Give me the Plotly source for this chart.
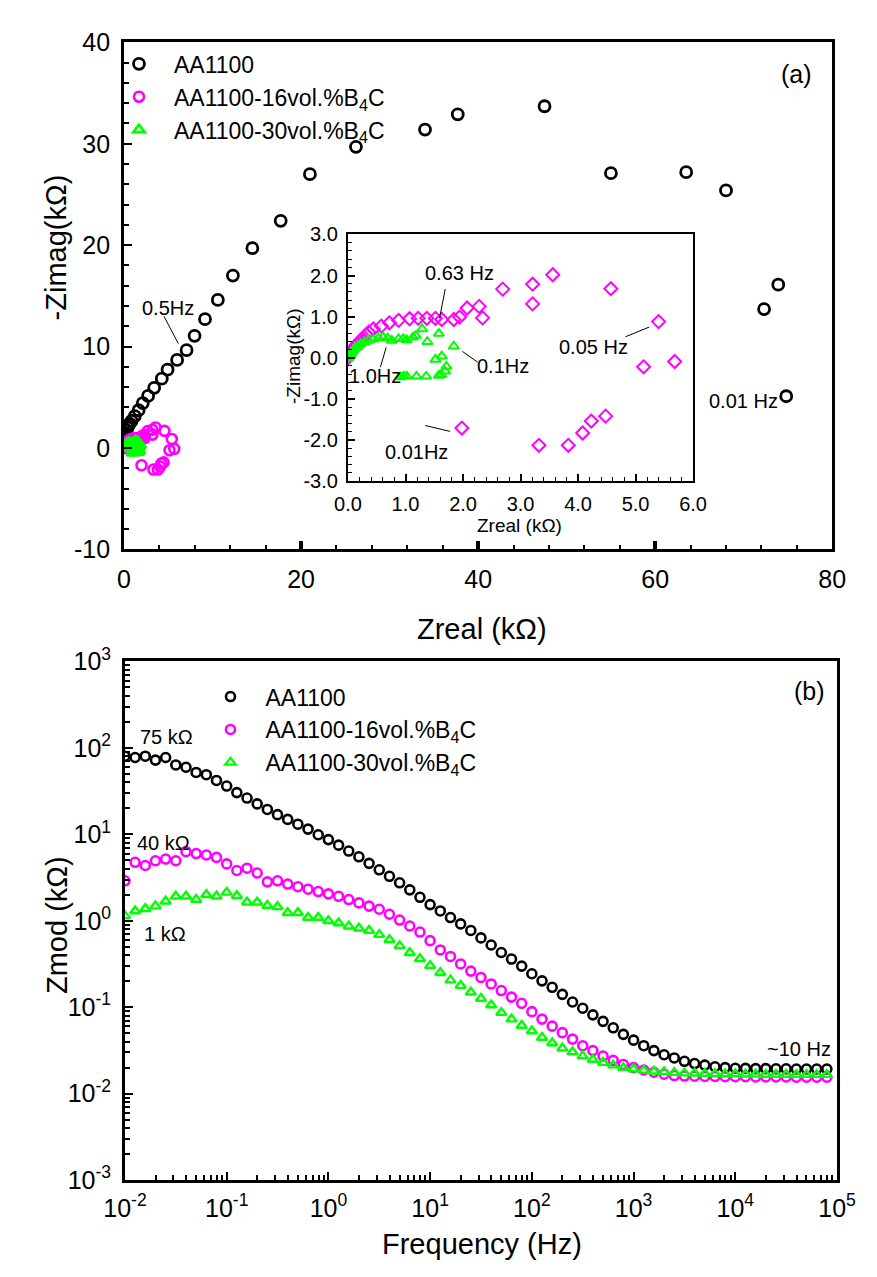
import plotly.graph_objects as go

# ---------------- data ----------------
# Nyquist, AA1100 (kOhm)
aa_zre = [0.02, 0.03, 0.05, 0.07, 0.10, 0.14, 0.20, 0.30, 0.40, 0.50, 0.65, 0.86, 1.22, 1.65, 2.12,
          2.72, 3.41, 4.27, 4.92, 6.00, 7.07, 7.97, 9.15, 10.6, 12.3, 14.5, 17.7, 21.0, 26.2, 34.0,
          37.7, 47.5, 55.0, 63.5, 68.0, 73.9, 72.3, 74.8]
aa_zim = [0.05, 0.15, 0.30, 0.50, 0.70, 1.00, 1.30, 1.70, 2.00, 2.20, 2.40, 2.66, 3.14, 3.72, 4.42,
          5.13, 5.93, 6.83, 7.72, 8.68, 9.64, 11.06, 12.7, 14.6, 17.0, 19.7, 22.4, 27.0, 29.7, 31.4,
          32.9, 33.7, 27.1, 27.2, 25.4, 16.1, 13.7, 5.1]
# Nyquist, AA1100-16vol.%B4C
b16_zre = [0.0, 0.02, 0.055, 0.08, 0.11, 0.15, 0.19, 0.23, 0.28, 0.32, 0.36, 0.44, 0.58, 0.72, 0.88,
           1.07, 1.22, 1.37, 1.52, 1.63, 1.84, 1.94, 2.07, 2.28, 2.34, 2.69, 3.21, 3.21, 3.56, 4.57,
           5.40, 5.14, 5.68, 4.48, 4.23, 4.08, 3.83, 3.32, 1.98]
b16_zim = [0.0, 0.07, 0.14, 0.20, 0.26, 0.32, 0.38, 0.44, 0.50, 0.56, 0.62, 0.70, 0.77, 0.85, 0.91,
           0.95, 0.96, 0.96, 0.96, 0.93, 0.93, 0.99, 1.21, 1.25, 0.97, 1.67, 1.31, 1.79, 2.02, 1.68,
           0.88, -0.22, -0.09, -1.42, -1.54, -1.83, -2.13, -2.13, -1.71]
# Nyquist, AA1100-30vol.%B4C
b30_zre = [0.0, 0.01, 0.03, 0.05, 0.07, 0.09, 0.11, 0.14, 0.17, 0.22, 0.29, 0.36, 0.44, 0.53, 0.61,
           0.69, 0.76, 0.88, 0.96, 1.02, 1.13, 1.18, 1.29, 1.38, 1.58, 1.84, 1.63, 1.52, 1.71, 1.69,
           1.62, 1.58, 1.36, 1.19, 1.02, 0.97, 0.92]
b30_zim = [-0.02, 0.02, 0.06, 0.10, 0.14, 0.18, 0.22, 0.25, 0.28, 0.34, 0.38, 0.42, 0.45, 0.48, 0.50,
           0.48, 0.42, 0.46, 0.46, 0.43, 0.50, 0.54, 0.70, 0.39, 0.59, 0.28, 0.04, -0.04, -0.21, -0.33,
           -0.41, -0.43, -0.45, -0.45, -0.45, -0.45, -0.47]

# Bode |Z|
freq_hz = [0.01, 0.01259, 0.01585, 0.01995, 0.02512, 0.03162, 0.03981, 0.05012, 0.06310, 0.07943,
           0.1, 0.1259, 0.1585, 0.1995, 0.2512, 0.3162, 0.3981, 0.5012, 0.6310, 0.7943,
           1.0, 1.259, 1.585, 1.995, 2.512, 3.162, 3.981, 5.012, 6.310, 7.943,
           10.0, 12.59, 15.85, 19.95, 25.12, 31.62, 39.81, 50.12, 63.10, 79.43,
           100.0, 125.9, 158.5, 199.5, 251.2, 316.2, 398.1, 501.2, 631.0, 794.3,
           1000.0, 1259, 1585, 1995, 2512, 3162, 3981, 5012, 6310, 7943,
           10000, 12590, 15850, 19950, 25120, 31620, 39810, 50120, 63100, 79430]
aa_zmod = [80.2, 77.4, 80.2, 72.3, 77.4, 63.5, 59.7, 52.0, 49.0, 42.0,
           36.2, 30.4, 26.3, 22.5, 19.4, 16.9, 14.9, 13.1, 11.5, 9.89,
           8.69, 7.50, 6.41, 5.50, 4.62, 3.89, 3.27, 2.75, 2.28, 1.87,
           1.54, 1.30, 1.09, 0.92, 0.773, 0.634, 0.525, 0.430, 0.361, 0.299,
           0.244, 0.202, 0.170, 0.141, 0.115, 0.0973, 0.0817, 0.0687, 0.0578, 0.0486,
           0.0416, 0.0359, 0.0315, 0.0282, 0.0259, 0.0237, 0.0223, 0.0214, 0.0205, 0.0200,
           0.0197, 0.0196, 0.0195, 0.0195, 0.0194, 0.0194, 0.0193, 0.0193, 0.0193, 0.0193]
b16_zmod = [2.90, 4.75, 4.36, 4.95, 5.18, 4.95, 6.31, 6.00, 5.78, 5.41,
            4.55, 3.82, 4.06, 3.57, 2.82, 2.90, 2.66, 2.48, 2.32, 2.18,
            2.05, 1.92, 1.76, 1.61, 1.48, 1.36, 1.19, 1.02, 0.871, 0.741,
            0.589, 0.460, 0.387, 0.317, 0.262, 0.221, 0.186, 0.156, 0.131, 0.111,
            0.0889, 0.0729, 0.0604, 0.0508, 0.0428, 0.0359, 0.0315, 0.0273, 0.0243, 0.0218,
            0.0200, 0.0188, 0.0177, 0.0168, 0.0162, 0.0160, 0.0159, 0.0158, 0.0158, 0.0157,
            0.0157, 0.0157, 0.0156, 0.0156, 0.0156, 0.0156, 0.0155, 0.0155, 0.0155, 0.0155]
b30_zmod = [1.14, 1.30, 1.38, 1.48, 1.68, 1.92, 1.92, 1.76, 2.00, 1.92,
            2.13, 1.95, 1.64, 1.64, 1.50, 1.45, 1.24, 1.24, 1.09, 1.09,
            1.00, 0.942, 0.865, 0.820, 0.773, 0.692, 0.603, 0.513, 0.427, 0.363,
            0.302, 0.251, 0.206, 0.178, 0.149, 0.126, 0.106, 0.0867, 0.0729, 0.0614,
            0.0530, 0.0446, 0.0385, 0.0336, 0.0303, 0.0273, 0.0249, 0.0229, 0.0214, 0.0200,
            0.0193, 0.0186, 0.0182, 0.0178, 0.0175, 0.0173, 0.0172, 0.0171, 0.0170, 0.0169,
            0.0169, 0.0168, 0.0168, 0.0167, 0.0167, 0.0167, 0.0166, 0.0166, 0.0166, 0.0166]

series_names = ["AA1100", "AA1100-16vol.%B<sub>4</sub>C", "AA1100-30vol.%B<sub>4</sub>C"]

# ---------------- layout helpers ----------------
W, H = 877, 1277
FONT = "Liberation Sans, Arial, sans-serif"
BLACK, MAG, GRN = "#000000", "#ff00ff", "#00ff00"


def fx(p):
    return p / W


def fy(p):
    return 1 - p / H


fig = go.Figure()

# ---- (a) Nyquist main ----
fig.add_trace(go.Scatter(x=aa_zre, y=aa_zim, mode="markers", name=series_names[0], xaxis="x", yaxis="y",
                         legend="legend", legendgroup="a1",
                         marker=dict(symbol="circle-open", size=11, color=BLACK, line=dict(width=2.8, color=BLACK))))
fig.add_trace(go.Scatter(x=b16_zre, y=b16_zim, mode="markers", name=series_names[1], xaxis="x", yaxis="y",
                         legend="legend", legendgroup="a2",
                         marker=dict(symbol="circle-open", size=10, color=MAG, line=dict(width=2.6, color=MAG))))
fig.add_trace(go.Scatter(x=b30_zre, y=b30_zim, mode="markers", name=series_names[2], xaxis="x", yaxis="y",
                         legend="legend", legendgroup="a3",
                         marker=dict(symbol="triangle-up-open", size=10, color=GRN, line=dict(width=2.6, color=GRN))))

# ---- inset ----
fig.add_trace(go.Scatter(x=b16_zre, y=b16_zim, mode="markers", showlegend=False, xaxis="x2", yaxis="y2",
                         marker=dict(symbol="diamond-open", size=10, color=MAG, line=dict(width=2.0, color=MAG))))
fig.add_trace(go.Scatter(x=b30_zre, y=b30_zim, mode="markers", showlegend=False, xaxis="x2", yaxis="y2",
                         marker=dict(symbol="triangle-up-open", size=9, color=GRN, line=dict(width=2.0, color=GRN))))

# ---- (b) Bode ----
fig.add_trace(go.Scatter(x=freq_hz, y=aa_zmod, mode="markers", name=series_names[0], xaxis="x3", yaxis="y3",
                         legend="legend2", legendgroup="b1",
                         marker=dict(symbol="circle-open", size=9, color=BLACK, line=dict(width=2.6, color=BLACK))))
fig.add_trace(go.Scatter(x=freq_hz, y=b16_zmod, mode="markers", name=series_names[1], xaxis="x3", yaxis="y3",
                         legend="legend2", legendgroup="b2",
                         marker=dict(symbol="circle-open", size=9, color=MAG, line=dict(width=2.6, color=MAG))))
fig.add_trace(go.Scatter(x=freq_hz, y=b30_zmod, mode="markers", name=series_names[2], xaxis="x3", yaxis="y3",
                         legend="legend2", legendgroup="b3",
                         marker=dict(symbol="triangle-up-open", size=9, color=GRN, line=dict(width=2.4, color=GRN))))

axis_common = dict(showline=True, mirror=True, linecolor=BLACK, linewidth=2.7, showgrid=False, zeroline=False,
                   ticks="inside", tickcolor=BLACK, tickwidth=2, ticklen=8)

main_tick_font = dict(family=FONT, size=25, color=BLACK)
inset_tick_font = dict(family=FONT, size=20, color=BLACK)

dec_x = [0.01, 0.1, 1, 10, 100, 1000, 10000, 100000]
dec_x_txt = ["10<sup>-2</sup>", "10<sup>-1</sup>", "10<sup>0</sup>", "10<sup>1</sup>", "10<sup>2</sup>",
             "10<sup>3</sup>", "10<sup>4</sup>", "10<sup>5</sup>"]
dec_y = [0.001, 0.01, 0.1, 1, 10, 100, 1000]
dec_y_txt = ["10<sup>-3</sup>", "10<sup>-2</sup>", "10<sup>-1</sup>", "10<sup>0</sup>", "10<sup>1</sup>",
             "10<sup>2</sup>", "10<sup>3</sup>"]
minor_x = [m * 10.0 ** e for e in range(-2, 5) for m in range(2, 10)]
minor_y = [m * 10.0 ** e for e in range(-3, 3) for m in range(2, 10)]

fig.update_layout(
    width=W, height=H, autosize=False,
    margin=dict(l=0, r=0, t=0, b=0),
    paper_bgcolor="white", plot_bgcolor="white",
    font=dict(family=FONT, color=BLACK),
    xaxis=dict(domain=[fx(107), fx(850)], range=[0, 80], anchor="y",
               tickvals=[0, 20, 40, 60, 80], ticktext=["0", "20", "40", "60", "80"],
               tickfont=main_tick_font, ticklabelstandoff=6,
               minor=dict(dtick=4, tick0=0, ticks="inside", ticklen=4, tickwidth=1.5, tickcolor=BLACK),
               **{**axis_common, "tickwidth": 3.5}),
    yaxis=dict(domain=[fy(545), fy(25)], range=[-10, 40], anchor="x",
               tickvals=[-10, 0, 10, 20, 30, 40], ticktext=["-10", "0", "10", "20", "30", "40"],
               tickfont=main_tick_font, ticklabelstandoff=6,
               minor=dict(dtick=2, tick0=0, ticks="inside", ticklen=5, tickwidth=1.5, tickcolor=BLACK),
               **axis_common),
    xaxis2=dict(domain=[fx(342), fx(704)], range=[0, 6], anchor="y2",
                tickvals=[0, 1, 2, 3, 4, 5, 6], ticktext=["0.0", "1.0", "2.0", "3.0", "4.0", "5.0", "6.0"],
                tickfont=inset_tick_font, ticklabelstandoff=4,
                minor=dict(dtick=0.2, tick0=0, ticks="inside", ticklen=4, tickwidth=1.3, tickcolor=BLACK),
                **{**axis_common, "linewidth": 2.2, "ticklen": 7}),
    yaxis2=dict(domain=[fy(475), fy(222)], range=[-3, 3], anchor="x2",
                tickvals=[-3, -2, -1, 0, 1, 2, 3],
                ticktext=["-3.0", "-2.0", "-1.0", "0.0", "1.0", "2.0", "3.0"],
                tickfont=inset_tick_font, ticklabelstandoff=4,
                minor=dict(dtick=0.2, tick0=0, ticks="inside", ticklen=4, tickwidth=1.3, tickcolor=BLACK),
                **{**axis_common, "linewidth": 2.2, "ticklen": 7}),
    xaxis3=dict(domain=[fx(108), fx(855)], type="log", range=[-2, 5], anchor="y3",
                tickvals=dec_x, ticktext=dec_x_txt, tickfont=main_tick_font, ticklabelstandoff=4,
                minor=dict(tickvals=minor_x, ticks="inside", ticklen=5, tickwidth=1.5, tickcolor=BLACK),
                **axis_common),
    yaxis3=dict(domain=[fy(1192), fy(660)], type="log", range=[-3, 3], anchor="x3",
                tickvals=dec_y, ticktext=dec_y_txt, tickfont=main_tick_font, ticklabelstandoff=6,
                minor=dict(tickvals=minor_y, ticks="inside", ticklen=5, tickwidth=1.5, tickcolor=BLACK),
                **axis_common),
    legend=dict(x=fx(86), y=fy(25), xanchor="left", yanchor="top", bgcolor="rgba(0,0,0,0)",
                font=dict(family=FONT, size=23, color=BLACK), itemwidth=60, tracegroupgap=2,
                traceorder="normal"),
    legend2=dict(x=fx(182), y=fy(674), xanchor="left", yanchor="top", bgcolor="rgba(0,0,0,0)",
                 font=dict(family=FONT, size=23, color=BLACK), itemwidth=60, tracegroupgap=2,
                 traceorder="normal"),
)

ann = []


def text(px_, py_, s, size=20, angle=0):
    ann.append(dict(x=fx(px_), y=fy(py_), xref="paper", yref="paper", text=s, showarrow=False,
                    font=dict(family=FONT, size=size, color=BLACK), textangle=angle,
                    xanchor="center", yanchor="middle"))


# panel (a)
text(813, 57, "(a)", 25)
text(153, 297, "0.5Hz", 20)
text(757, 393, "0.01 Hz", 20)
text(483, 627, "Zreal (k\u03a9)", 29)
text(36, 235, "-Zimag(k\u03a9)", 29, -90)
# inset
text(459, 262, "0.63 Hz", 20)
text(370, 367, "1.0Hz", 20)
text(505, 357, "0.1Hz", 20)
text(600, 337, "0.05 Hz", 20)
text(414, 445, "0.01Hz", 20)
text(522, 521, "Zreal (k\u03a9)", 19)
text(285, 347, "-Zimag(k\u03a9)", 19, -90)
# panel (b)
text(826, 690, "(b)", 25)
text(152, 737, "75 k\u03a9", 20)
text(148, 846, "40 k\u03a9", 20)
text(150, 940, "1 k\u03a9", 20)
text(815, 1058, "~10 Hz", 20)
text(36, 930, "Zmod (k\u03a9)", 29, -90)
text(483, 1257, "Frequency (Hz)", 29)

fig.update_layout(annotations=ann)

shapes = []
for (x0, y0, x1, y1) in [(149, 306, 164, 334), (444, 278, 438, 308), (382, 338, 376, 358),
                         (462, 342, 478, 353), (633, 327, 658, 317), (423, 418, 449, 424)]:
    shapes.append(dict(type="line", xref="paper", yref="paper", x0=fx(x0), y0=fy(y0), x1=fx(x1), y1=fy(y1),
                       line=dict(color=BLACK, width=1)))
fig.update_layout(shapes=shapes)

fig.write_html("out.html")
